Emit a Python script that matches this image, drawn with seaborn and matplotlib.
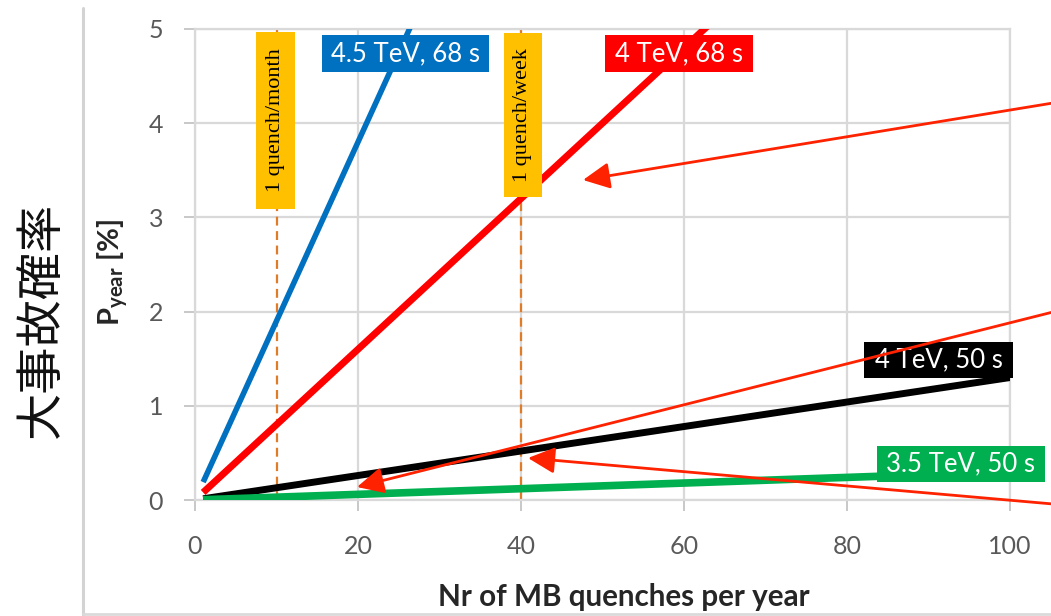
import matplotlib
matplotlib.use("Agg")
import matplotlib.pyplot as plt
from matplotlib.patches import Rectangle, FancyArrowPatch
import seaborn as sns
import pandas as pd

# ---- data -------------------------------------------------------------
quenches_45_68 = [1, 10, 20, 30]
p_45_68 = [0.19, 1.9, 3.8, 5.7]

quenches_4_68 = [1, 10, 20, 30, 40, 50, 60, 70]
p_4_68 = [0.08, 0.8, 1.6, 2.4, 3.2, 4.0, 4.8, 5.6]

quenches_50 = [1, 10, 20, 30, 40, 50, 60, 70, 80, 90, 100]
p_4_50 = [0.013, 0.13, 0.26, 0.39, 0.52, 0.65, 0.78, 0.91, 1.04, 1.17, 1.3]
p_35_50 = [0.003, 0.03, 0.06, 0.09, 0.12, 0.15, 0.18, 0.21, 0.24, 0.27, 0.30]

series_names = ["4.5 TeV, 68 s", "4 TeV, 68 s", "4 TeV, 50 s", "3.5 TeV, 50 s"]
series_colors = ["#0070C0", "#FF0000", "#000000", "#00B050"]

quench_rate_marks = [10, 40]
quench_rate_labels = ["1 quench/month", "1 quench/week"]

x_ticks = [0, 20, 40, 60, 80, 100]
y_ticks = [0, 1, 2, 3, 4, 5]

# ---- style --------------------------------------------------------------
sns.set_theme(style="white")
plt.rcParams["font.family"] = ["Lato", "DejaVu Sans"]
plt.rcParams["mathtext.fontset"] = "custom"
plt.rcParams["mathtext.bf"] = "Lato:bold"
plt.rcParams["mathtext.rm"] = "Lato:bold"

W, H = 1051, 616
fig = plt.figure(figsize=(W / 100, H / 100), dpi=100)
fig.patch.set_facecolor("white")


def fx(px):
    return px / W


def fy(py):
    return 1 - py / H


ax = fig.add_axes([fx(195), fy(500), fx(1010) - fx(195), fy(29) - fy(500)])

grid_color = "#D9D9D9"
tick_color = "#595959"

frames = []
for xs, ys in [(quenches_45_68, p_45_68), (quenches_4_68, p_4_68),
               (quenches_50, p_4_50), (quenches_50, p_35_50)]:
    frames.append(pd.DataFrame({"quenches": xs, "p": ys}))

widths = [4.0, 5.0, 5.0, 5.5]
for df, name, col, lw in zip(frames, series_names, series_colors, widths):
    sns.lineplot(data=df, x="quenches", y="p", color=col, linewidth=lw,
                 ax=ax, zorder=4, solid_capstyle="butt")

for q in quench_rate_marks:
    ax.axvline(q, color="#E07B28", linewidth=1.6, dashes=(4, 2.5), zorder=2)

ax.set_xlim(0, 100)
ax.set_ylim(0, 5)
ax.set_xticks(x_ticks)
ax.set_yticks(y_ticks)
ax.grid(True, color=grid_color, linewidth=1.6, zorder=0)
ax.set_axisbelow(True)
for side in ax.spines.values():
    side.set_color(grid_color)
    side.set_linewidth(1.6)
ax.tick_params(axis="both", which="both", length=8, width=1.2,
               color="#BFBFBF", labelcolor=tick_color, labelsize=18,
               left=True, bottom=True)
ax.tick_params(axis="x", pad=17)
ax.tick_params(axis="y", pad=15)
ax.set_xlabel("")
ax.set_ylabel("")

# axis titles
fig.text(fx(624), fy(597), "Nr of MB quenches per year", ha="center",
         va="center", fontsize=21.3, fontweight="bold", color="#262626")
fig.text(fx(113), fy(272), r"$\mathbf{P}_{\mathbf{year}}$ [%]", ha="center",
         va="center", rotation=90, fontsize=21, fontweight="bold",
         color="#262626")

# big side title
fig.text(fx(42), fy(320), "大事故確率", ha="center", va="center", rotation=90,
         fontsize=34, family=["Noto Sans CJK JP", "DejaVu Sans"],
         color="#111111")

# frame of the slide panel
fig.add_artist(plt.Line2D([fx(83), fx(83)], [fy(8), fy(616)],
                          transform=fig.transFigure, color="#D3D3D3", lw=2.2))
fig.add_artist(plt.Line2D([fx(83), fx(1051)], [fy(614), fy(614)],
                          transform=fig.transFigure, color="#DADADA", lw=2))


def box(x0, y0, x1, y1, color, text, tcolor, **kw):
    fig.add_artist(Rectangle((fx(x0), fy(y1)), fx(x1) - fx(x0),
                             fy(y0) - fy(y1), transform=fig.transFigure,
                             facecolor=color, edgecolor="none", zorder=5))
    fig.text((fx(x0) + fx(x1)) / 2, (fy(y0) + fy(y1)) / 2, text,
             ha="center", va="center", color=tcolor, zorder=6, **kw)


# series labels
label_boxes = [(322, 35, 489, 72), (605, 35, 753, 72),
               (864, 342, 1013, 378), (877, 446, 1045, 482)]
for (x0, y0, x1, y1), name, col in zip(label_boxes, series_names,
                                       series_colors):
    box(x0, y0, x1, y1, col, name, "white", fontsize=18.5)

# quench-rate labels
rate_boxes = [(256, 32, 295, 209), (504, 33, 542, 197)]
for (x0, y0, x1, y1), txt in zip(rate_boxes, quench_rate_labels):
    box(x0, y0, x1, y1, "#FFC000", txt, "black", rotation=90, fontsize=16,
        family=["Liberation Serif", "DejaVu Serif"])

# pointer arrows
arrows = [((1053, 103), (583, 180)), ((1053, 312), (357, 487)),
          ((1053, 504), (528, 458))]
for (sx, sy), (tx, ty) in arrows:
    fig.add_artist(FancyArrowPatch(
        (fx(sx), fy(sy)), (fx(tx), fy(ty)), transform=fig.transFigure,
        arrowstyle="-|>,head_length=0.65,head_width=0.32", mutation_scale=25,
        color="#FF2200", lw=2, shrinkA=0, shrinkB=0, zorder=7))

fig.savefig("out.png", dpi=100)
